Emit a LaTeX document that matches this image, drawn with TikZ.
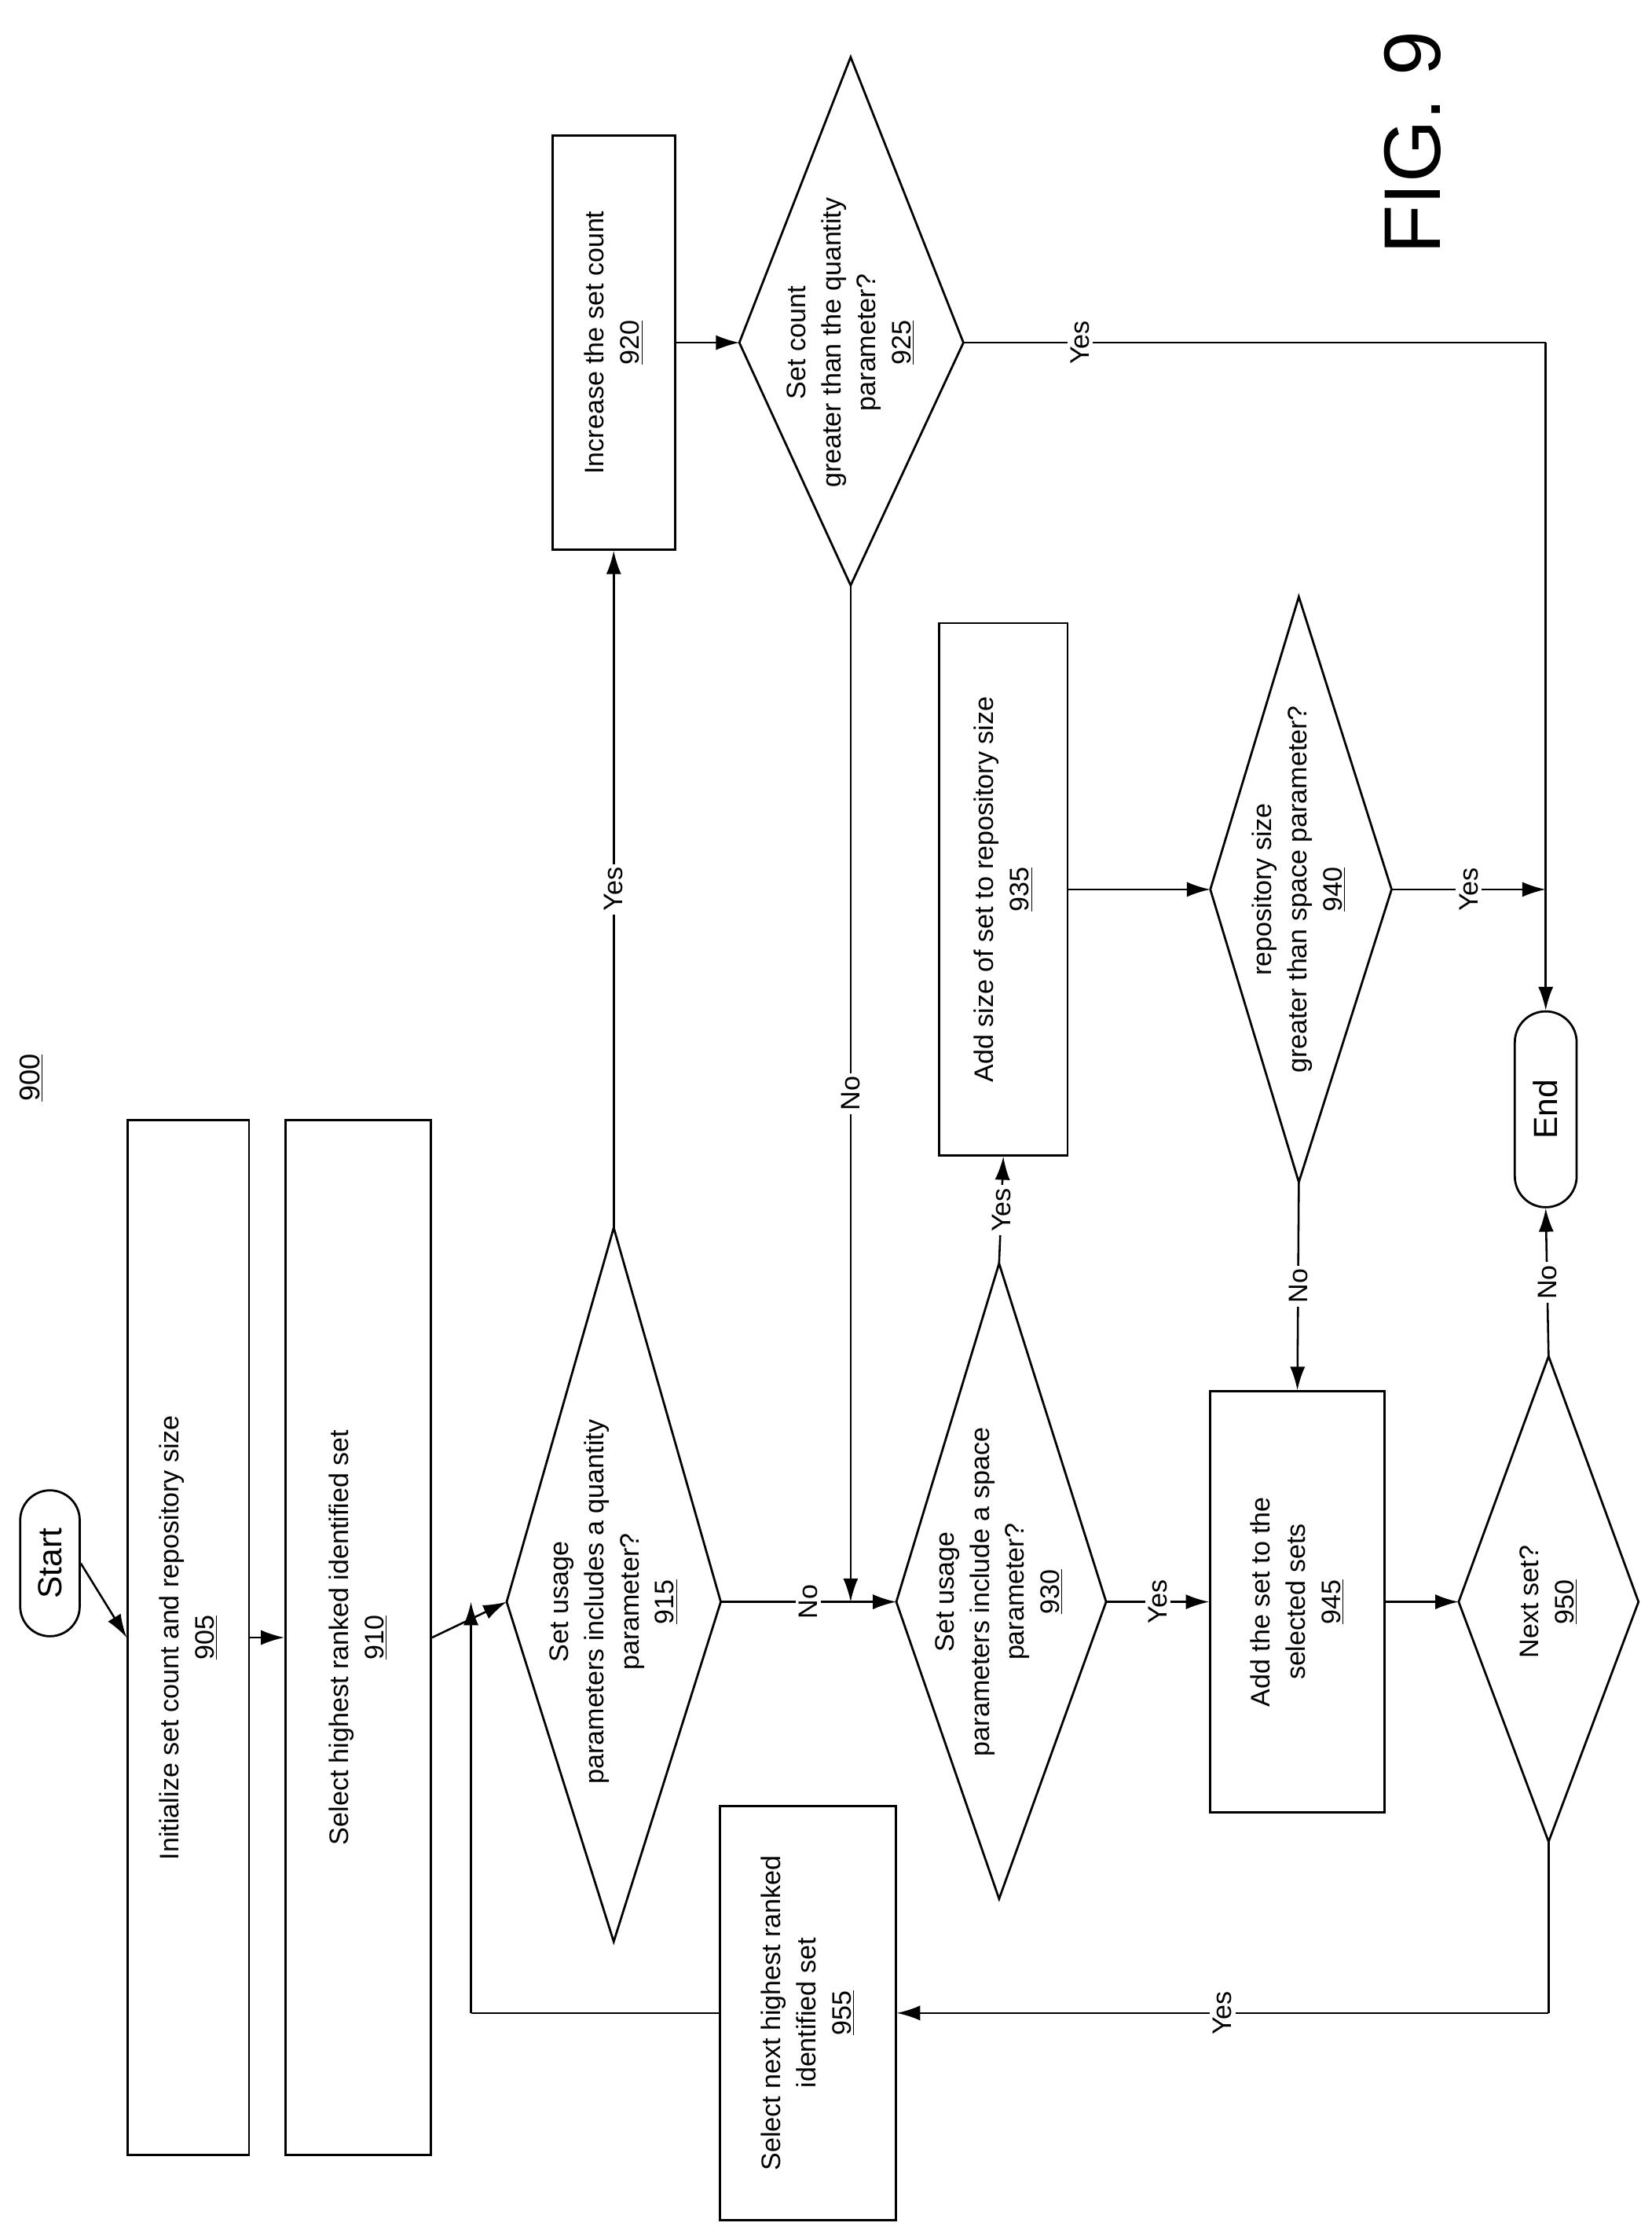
\documentclass[tikz,border=0pt]{standalone}
\usepackage{fontspec}
\setmainfont{Liberation Sans}
\usetikzlibrary{arrows.meta,shapes.misc}
\begin{document}
\begin{tikzpicture}[x=0.03cm,y=-0.03cm,
  every node/.style={font=\fontsize{16}{21}\selectfont},
  box/.style={draw,line width=1.3pt,rotate=90,align=center,inner sep=0pt},
  dia/.style={draw,line width=1.3pt},
  txt/.style={rotate=90,align=center},
  lbl/.style={rotate=90,fill=white,inner sep=2pt},
  ar/.style={line width=1.2pt,-{Latex[length=14pt,width=9pt]}},
  ln/.style={line width=1.2pt}]
\useasboundingbox (0,0) rectangle (1157,1562);
\node[rotate=90,font=\fontsize{17}{20}\selectfont] (n900) at (22,755) {\underline{900}};
\node[rotate=90,font=\fontsize{48}{50}\selectfont] (fig) at (990,100) {FIG. 9};
% start / end
\node[draw,line width=1.3pt,rounded rectangle,rotate=90,minimum width=3.3cm,minimum height=1.25cm,font=\fontsize{20}{22}\selectfont] (start) at (35,1095) {Start};
\node[draw,line width=1.3pt,rounded rectangle,rotate=90,minimum width=4.35cm,minimum height=1.3cm,font=\fontsize{20}{22}\selectfont] (end) at (1083,777) {End};
% boxes
\node[box,minimum width=21.75cm,minimum height=2.55cm] (b905) at (132,1147) {Initialize set count and repository size\\\underline{905}};
\node[box,minimum width=21.75cm,minimum height=3.06cm] (b910) at (251,1147) {Select highest ranked identified set\\\underline{910}};
\node[box,minimum width=8.7cm,minimum height=3.69cm] (b955) at (566,1410) {Select next highest ranked\\identified set\\\underline{955}};
\node[box,minimum width=8.85cm,minimum height=3.66cm] (b945) at (909,1122) {Add the set to the\\selected sets\\\underline{945}};
\node[box,minimum width=11.19cm,minimum height=2.7cm] (b935) at (703,623) {Add size of set to repository size\\\underline{935}};
\node[box,minimum width=8.7cm,minimum height=2.58cm] (b920) at (430,240) {Increase the set count\\\underline{920}};
% diamonds
\draw[dia] (355,1122) coordinate (d915l) -- (430,860) coordinate (d915t) -- (505,1122) coordinate (d915r) -- (430,1360) coordinate (d915b) -- cycle;
\node[txt] (t915) at (430,1122) {Set usage\\parameters includes a quantity\\parameter?\\\underline{915}};
\draw[dia] (628,1122) coordinate (d930l) -- (700,885) coordinate (d930t) -- (775,1122) coordinate (d930r) -- (700,1330) coordinate (d930b) -- cycle;
\node[txt] (t930) at (700,1115) {Set usage\\parameters include a space\\parameter?\\\underline{930}};
\draw[dia] (1022,1122) coordinate (d950l) -- (1085,950) coordinate (d950t) -- (1148,1122) coordinate (d950r) -- (1085,1290) coordinate (d950b) -- cycle;
\node[txt] (t950) at (1085,1122) {Next set?\\\underline{950}};
\draw[dia] (848,623) coordinate (d940l) -- (910,418) coordinate (d940t) -- (975,623) coordinate (d940r) -- (910,828) coordinate (d940b) -- cycle;
\node[txt] (t940) at (910,623) {repository size\\greater than space parameter?\\\underline{940}};
\draw[dia] (518,240) coordinate (d925l) -- (596,40) coordinate (d925t) -- (675,240) coordinate (d925r) -- (596,410) coordinate (d925b) -- cycle;
\node[txt] (t925) at (596,240) {Set count\\greater than the quantity\\parameter?\\\underline{925}};
% connectors
\draw[ar] (start.south) -- (b905.north);
\draw[ar] (b905.south) -- (b910.north);
\draw[ar] (b910.south) -- (d915l);
\draw[ar] (d915t) -- node[lbl]{Yes} (b920.south west -| d915t);
\draw[ar] (d915r) -- node[lbl]{No} (d930l);
\draw[ar] (b920.south) -- (d925l);
\coordinate (j1) at (596,1122);
\draw[ar] (d925b) -- node[lbl]{No} (j1);
\coordinate (c1) at (1083,240);
\draw[ln] (d925r) -- node[lbl,pos=0.2]{Yes} (c1);
\draw[ar] (c1) -- (end.east);
\draw[ar] (d930t) -- node[lbl]{Yes} (b935.east |- 0,810);
\draw[ar] (d930r) -- node[lbl]{Yes} (b945.north);
\draw[ar] (b935.south) -- (d940l);
\coordinate (c2) at (1083,623);
\draw[ar] (d940r) -- node[lbl]{Yes} (c2);
\draw[ar] (d940b) -- node[lbl]{No} (b945.east);
\draw[ar] (b945.south) -- (d950l);
\draw[ar] (d950t) -- node[lbl]{No} (end.west);
\coordinate (c3) at (1085,1410);
\draw[ln] (d950b) -- (c3);
\draw[ar] (c3) -- node[lbl]{Yes} (b955.south);
\coordinate (c4) at (330,1410);
\coordinate (c5) at (330,1122);
\draw[ln] (b955.north) -- (c4);
\draw[ar] (c4) -- (c5);
\end{tikzpicture}
\end{document}
